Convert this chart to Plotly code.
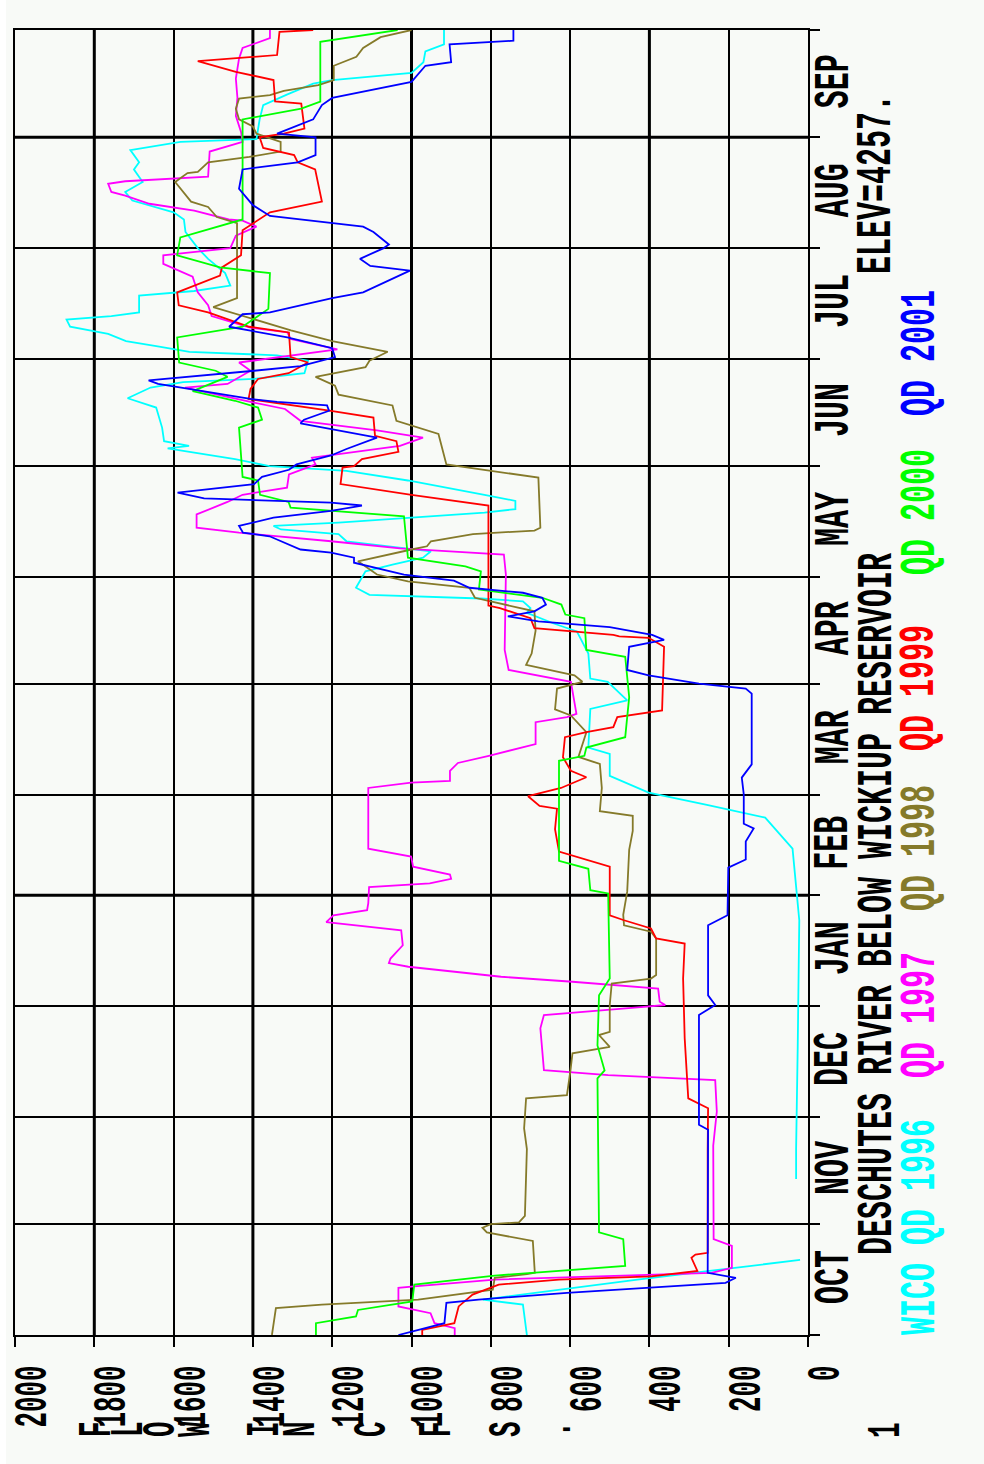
import plotly.graph_objects as go

# Daily flow, Deschutes River below Wickiup Reservoir, by water year.
# Each point: (day of water year counted from Oct 1, flow in cfs); None = no record.
wy1996 = [
    (0, 709), (8.5, 719), (9.9, 820), (15.5, 430), (21, 20), None,
    (43.6, 30), (52, 30), (80, 26), (116, 22), (136, 39), (144.7, 108), (148.3, 255),
    (151.7, 402), (156.4, 500), (162.5, 500), (164.3, 554), (175.1, 549), (177.5, 456),
    (182.7, 505), (183.6, 549), (190.6, 554), (196.8, 583), (199, 641), (202, 709),
    (203.3, 700), (205.2, 719), (206, 825), (207, 1106), (209, 1140), (213.6, 1116),
    (215.5, 1048), (217.4, 971), (219.2, 951), (222, 1164), (224, 1184), (225.3, 1329),
    (226.3, 1348), (227.2, 1184), (228.6, 1009), (230, 816), (231, 738), (233.3, 738),
    (235, 816), (239, 1009), (241.7, 1164), (243, 1358), (245, 1445), (246.8, 1552),
    (248, 1615), (248.7, 1561), (250, 1624), (253.8, 1629), (259.4, 1644), (262, 1716),
    (265, 1658), (266.5, 1576), (267.4, 1397), (269, 1270), (272.5, 1261), (274, 1339),
    (275, 1560), (276.5, 1640), (278, 1720), (280, 1765), (282, 1861), (284, 1870),
    (285, 1757), (286, 1687), (290.7, 1687), (292, 1548), (293.5, 1457), (297, 1470),
    (301, 1513), (304, 1539), (308.5, 1570), (312, 1574), (314, 1600), (317.3, 1704),
    (319.7, 1722), (322.5, 1678), (326, 1700), (328, 1687), (331.4, 1709), (333.7, 1583),
    (334.5, 1391), (340, 1383), (344, 1374), (347, 1313), (350, 1248), (351, 1200),
    (353, 1000), (356, 970), (359, 965), (361, 918), (365, 918),
]

wy1997 = [
    (0, 891), (1.9, 891), (3.3, 942), (6.1, 952), (8, 1033), (13.2, 1033), (13.6, 993),
    (15.5, 790), (16.9, 385), (17.4, 243), (18.8, 192), (24.9, 192), (26.8, 238),
    (53, 239), (62.5, 230), (71.3, 234), (72.7, 504), (74.1, 666), (85.8, 675),
    (89.5, 666), (91.8, 414), (92.3, 360), (93.2, 374), (96.9, 378), (98.8, 594),
    (100.2, 774), (103, 1008), (104, 1057), (105.3, 1053), (109, 1022), (113.2, 1026),
    (115.5, 1215), (117.4, 1197), (118.8, 1112), (120.8, 1109), (125.3, 1107),
    (126.3, 954), (127.6, 900), (128.8, 903), (131, 996), (133.8, 1001), (136, 1109),
    (153, 1109), (154.5, 1001), (155, 903), (157.8, 903), (160, 883), (162, 805),
    (165.3, 687), (171.4, 687), (172.8, 608), (173.7, 584), (182.7, 598), (184.5, 687),
    (186, 755), (191.6, 765), (212.7, 762), (218.3, 767), (220, 1029), (222, 1203),
    (224.4, 1435), (225.8, 1542), (229.5, 1542), (233, 1464), (235, 1426), (237, 1314),
    (240.7, 1309), (243.5, 1242), (245.4, 1251), (246.4, 1184), (248.7, 1029), (251, 971),
    (253, 1087), (255.7, 1280), (259, 1319), (261, 1406), (265, 1571), (266, 1464),
    (269.7, 1406), (272, 1435), (275.7, 1187), (278.6, 1305), (280.4, 1313), (281.8, 1409),
    (285, 1504), (288, 1513), (291.6, 1539), (296, 1552), (299.6, 1626), (302, 1626),
    (304, 1457), (307.5, 1443), (310, 1391), (311.7, 1426), (312, 1461), (314.5, 1548),
    (316.4, 1661), (318.7, 1722), (319.7, 1757), (322, 1765), (322.7, 1722), (324, 1513),
    (331, 1509), (333.7, 1426), (336.5, 1430), (341, 1443), (346, 1439), (351.4, 1443),
    (357, 1435), (360, 1426), (362.7, 1357), (365, 1357),
]

wy1998 = [
    (0, 1352), (7.5, 1342), (8.5, 1226), (9.9, 983), (12.7, 795), (16, 790), (17, 709),
    (17.4, 689), (26.3, 694), (28.7, 810), (30, 821), (31, 800), (31.5, 729), (33.3, 714),
    (52, 709), (57.8, 716), (66.2, 711), (67.1, 608), (74.1, 599), (78.8, 594),
    (80.6, 500), (83.9, 527), (84.8, 500), (92.3, 500), (98.3, 495), (99.7, 396),
    (100.7, 383), (110.9, 383), (112.8, 396), (114.6, 464), (117.5, 466), (124, 456),
    (135.7, 451), (141, 442), (145.2, 442), (146.5, 525), (153, 520), (159.7, 525),
    (161.7, 579), (168.6, 559), (173.3, 598), (175, 638), (180.8, 633), (182.7, 569),
    (184.5, 589), (187.4, 711), (190.6, 697), (197, 687), (202.4, 690), (206.2, 840),
    (209, 854), (210.8, 1009), (212.7, 1087), (216.4, 1135), (219.7, 1000), (220.6, 961),
    (222, 951), (224, 845), (225, 690), (225.8, 675), (239.8, 680), (242, 816),
    (243.5, 912), (252, 932), (255.7, 1038), (260, 1048), (263, 1184), (265.5, 1193),
    (268, 1242), (270.7, 1116), (272.5, 1106), (275, 1060), (278, 1200), (281, 1304),
    (287.5, 1500), (290, 1440), (311, 1440), (312.7, 1491), (315.5, 1513), (317, 1556),
    (322.5, 1596), (325, 1565), (325.3, 1539), (328, 1513), (329.5, 1409), (331, 1330),
    (333.7, 1330), (336, 1391), (338, 1400), (340, 1435), (343, 1443), (345.8, 1435),
    (346.8, 1357), (348, 1322), (349.6, 1235), (351, 1196), (355, 1196), (357.5, 1139),
    (360, 1122), (363, 1078), (365, 1000),
]

wy1999 = [
    (0, 973), (1.4, 973), (3.3, 892), (8, 881), (11.3, 846), (14.1, 780), (15.5, 628),
    (16.4, 395), (17.9, 279), (21.6, 294), (22.5, 284), (23, 253), (52, 253), (63.4, 252),
    (66.2, 302), (83, 311), (99.7, 315), (109.5, 311), (110.9, 383), (113.7, 396),
    (116, 464), (117.4, 500), (131, 500), (135.2, 628), (141.5, 638), (147.2, 633),
    (148, 677), (150.7, 706), (153, 623), (156, 559), (157.8, 598), (161.6, 618),
    (167.2, 613), (168.6, 559), (170, 491), (172.8, 481), (174.7, 368), (192.5, 363),
    (195, 402), (195.4, 476), (195.8, 491), (197.7, 690), (200.5, 700), (203.3, 777),
    (204, 806), (232, 806), (235, 1000), (238, 1179), (242.6, 1174), (243, 1145),
    (245, 1125), (247, 1033), (250, 1038), (251.5, 1092), (256.6, 1096), (258.5, 1203),
    (261.8, 1411), (264.6, 1406), (267.4, 1387), (269, 1310), (272, 1261), (273.5, 1305),
    (280.4, 1309), (282, 1409), (286, 1513), (288, 1587), (291.6, 1591), (296.3, 1483),
    (298.6, 1478), (302, 1430), (309, 1426), (311.7, 1387), (314, 1357), (317, 1226),
    (326, 1243), (328, 1287), (330, 1296), (332, 1374), (335, 1383), (336, 1322),
    (337.4, 1270), (344.4, 1278), (345, 1344), (351, 1348), (353.3, 1443), (356.3, 1539),
    (358, 1339), (364.5, 1333), (365, 1248),
]

wy2000 = [
    (0, 1241), (3.3, 1241), (5.2, 1140), (7, 1135), (9.4, 998), (14.1, 993), (16.6, 790),
    (18.8, 507), (19.3, 461), (26.8, 466), (28.7, 527), (71.8, 531), (74, 513), (81, 531),
    (95, 527), (99.7, 500), (123.5, 504), (124.4, 549), (130.4, 554), (132.6, 628),
    (160.6, 628), (162, 564), (164.3, 559), (167.2, 461), (178.4, 451), (189.7, 461),
    (191.6, 559), (200.5, 564), (201.5, 612), (204.3, 622), (206.2, 670), (208.5, 830),
    (213.6, 825), (215, 864), (217.4, 1009), (229, 1019), (230.5, 1203), (231.4, 1305),
    (233, 1310), (235, 1382), (239, 1387), (240, 1426), (253.8, 1435), (256, 1377),
    (259.4, 1387), (261.3, 1445), (264, 1552), (268, 1464), (269.7, 1494), (272, 1586),
    (279, 1591), (282, 1426), (287, 1361), (297, 1357), (298.6, 1483), (302, 1591),
    (307, 1583), (312, 1426), (340, 1426), (341, 1374), (343, 1278), (345, 1230),
    (361.7, 1230), (365, 1035),
]

wy2001 = [
    (0, 1033), (1.4, 983), (3.3, 917), (9, 912), (9.9, 831), (11.8, 608), (13.6, 365),
    (14.6, 208), (16, 182), (17.4, 253), (57.4, 252), (58.8, 275), (89.5, 275),
    (92.3, 234), (95, 252), (114.6, 252), (117.4, 203), (130.7, 201), (133, 157),
    (138, 157), (141.7, 137), (143, 162), (151.2, 162), (155.9, 167), (159.6, 142),
    (179.4, 142), (180.8, 157), (182.2, 275), (184.5, 402), (186, 456), (192.5, 451),
    (194.4, 363), (195.8, 393), (198, 500), (199.6, 680), (201, 757), (202.4, 690),
    (204.3, 661), (206.2, 670), (207.6, 719), (209, 854), (211, 893), (212.7, 1019),
    (216, 1145), (217.4, 1145), (218.8, 1203), (219.7, 1280), (223.4, 1358),
    (224.4, 1425), (226.3, 1435), (228.6, 1348), (230.5, 1203), (232, 1125),
    (232.8, 1203), (234, 1523), (235.6, 1590), (238, 1397), (240, 1377), (242, 1309),
    (243.5, 1290), (246, 1203), (247.8, 1164), (251, 1087), (253.4, 1203), (255, 1280),
    (256, 1271), (258.5, 1208), (260, 1213), (261, 1339), (261.8, 1406), (266, 1639),
    (267, 1663), (268, 1561), (269.7, 1397), (271, 1280), (273.5, 1193), (276, 1200),
    (279, 1313), (282, 1460), (285.5, 1426), (286, 1357), (290, 1200), (291.6, 1122),
    (297.7, 1004), (299, 1104), (301, 1130), (304, 1070), (305, 1057), (308.5, 1096),
    (310, 1122), (313, 1357), (316, 1400), (320.6, 1435), (326, 1426), (328, 1287),
    (330, 1242), (335, 1242), (336, 1339), (340, 1248), (344, 1226), (346, 1200),
    (350.5, 1000), (355, 965), (356, 900), (361, 904), (362, 743), (365, 743),
]

SERIES = [
    ("WICO QD 1996", wy1996, "#00ffff"),
    ("QD 1997", wy1997, "#ff00ff"),
    ("QD 1998", wy1998, "#857a2a"),
    ("QD 1999", wy1999, "#ff0000"),
    ("QD 2000", wy2000, "#00ff00"),
    ("QD 2001", wy2001, "#0000ff"),
]

FLOW_TICKS = list(range(0, 2001, 200))
HEAVY_FLOW = [1800, 1400, 1000, 400]
MONTH_START = [0, 31, 61, 92, 123, 151, 182, 212, 243, 273, 304, 335, 365]
HEAVY_DAY = [123, 335]
MONTHS = ["OCT", "NOV", "DEC", "JAN", "FEB", "MAR", "APR", "MAY", "JUN", "JUL", "AUG", "SEP"]
AXIS_TITLE = [("F", 98), ("L", 130), ("O", 162), ("W", 197), ("I", 266), ("N", 302),
              ("C", 373), ("F", 438), ("S", 508), (".", 558)]
LEGEND_CENTER = [1227, 1015, 848, 688, 512, 353]

BG = "#f8faf7"
FONT = "Liberation Mono, DejaVu Sans Mono, monospace"
BIG = 50    # titles, month names, series labels
SMALL = 46  # flow tick labels, axis title letters

W, H = 984, 1464
L, R, T, B = 15, 808, 30, 1335  # plot-area edges in pixels


def px_x(px):
    return (px - L) / (R - L)


def px_y(py):
    return (B - py) / (B - T)


def label(text, x, y, size, color="black", yref="paper"):
    return dict(text=text, x=x, xref="paper", y=y, yref=yref, textangle=-90,
                showarrow=False, xanchor="center", yanchor="middle",
                font=dict(family=FONT, size=size, color=color, weight="bold"))


fig = go.Figure()
for name, pts, color in SERIES:
    days = [p[0] if p else None for p in pts]
    cfs = [p[1] if p else None for p in pts]
    fig.add_trace(go.Scatter(x=cfs, y=days, mode="lines", name=name,
                             line=dict(color=color, width=1.8), connectgaps=False,
                             hoverinfo="skip"))

shapes = [dict(type="rect", xref="paper", yref="paper", x0=px_x(0), x1=px_x(6),
               y0=px_y(H), y1=px_y(0), fillcolor="white", line=dict(width=0),
               layer="below")]
for v in HEAVY_FLOW:
    shapes.append(dict(type="line", xref="x", yref="paper", x0=v, x1=v, y0=0, y1=1,
                       line=dict(color="black", width=3), layer="below"))
for d in HEAVY_DAY:
    shapes.append(dict(type="line", xref="paper", yref="y", x0=0, x1=1, y0=d, y1=d,
                       line=dict(color="black", width=3), layer="below"))

ann = []
for i, m in enumerate(MONTHS):
    mid = (MONTH_START[i] + MONTH_START[i + 1]) / 2
    ann.append(label(m, px_x(834), mid + 0.7, BIG, yref="y"))
ann.append(label("DESCHUTES RIVER BELOW WICKIUP RESERVOIR", px_x(877), px_y(904), BIG))
ann.append(label("ELEV=4257.", px_x(877), px_y(184), BIG))
for (name, _, color), py in zip(SERIES, LEGEND_CENTER):
    ann.append(label(name, px_x(920), px_y(py), BIG, color))
for ch, px in AXIS_TITLE:
    ann.append(label(ch, px_x(px), px_y(1429), SMALL))
ann.append(label("1", px_x(887), px_y(1430), SMALL))

fig.update_layout(
    width=W, height=H,
    margin=dict(l=L, r=W - R, t=T, b=H - B, pad=0, autoexpand=False),
    paper_bgcolor=BG, plot_bgcolor=BG,
    showlegend=False,
    shapes=shapes, annotations=ann,
    xaxis=dict(range=[2000, 0], tickmode="array", tickvals=FLOW_TICKS,
               ticks="outside", ticklen=10, tickwidth=2, tickcolor="black",
               tickangle=-90,
               tickfont=dict(family=FONT, size=SMALL, color="black", weight="bold"),
               ticklabeloverflow="allow", ticklabelshift=-16, automargin=False,
               showgrid=True, gridcolor="black", gridwidth=1.5, zeroline=False,
               showline=True, linecolor="black", linewidth=2, mirror=True),
    yaxis=dict(range=[0, 365], tickmode="array", tickvals=MONTH_START,
               showticklabels=False, side="right", automargin=False,
               ticks="outside", ticklen=10, tickwidth=2, tickcolor="black",
               showgrid=True, gridcolor="black", gridwidth=1.5, zeroline=False,
               showline=True, linecolor="black", linewidth=2, mirror=True),
)

# The lettering is a tall, narrow plotter face: every character keeps its full
# height but advances only a fixed, short step along the reading direction.
CONDENSE_JS = """
var gd = document.getElementById('{plot_id}');
function condense() {
  gd.querySelectorAll('.annotation-text, .xtick text').forEach(function (t) {
    if (t.getAttribute('lengthAdjust')) { return; }
    var n = (t.textContent || '').length;
    if (!n) { return; }
    var size = parseFloat(t.style.fontSize) || 46;
    var step = size >= 48 ? 18.0 : 15.5;
    t.setAttribute('textLength', (n * step).toFixed(1));
    t.setAttribute('lengthAdjust', 'spacingAndGlyphs');
  });
}
condense();
gd.on('plotly_afterplot', condense);
"""

fig.write_html("out.html", post_script=CONDENSE_JS)
